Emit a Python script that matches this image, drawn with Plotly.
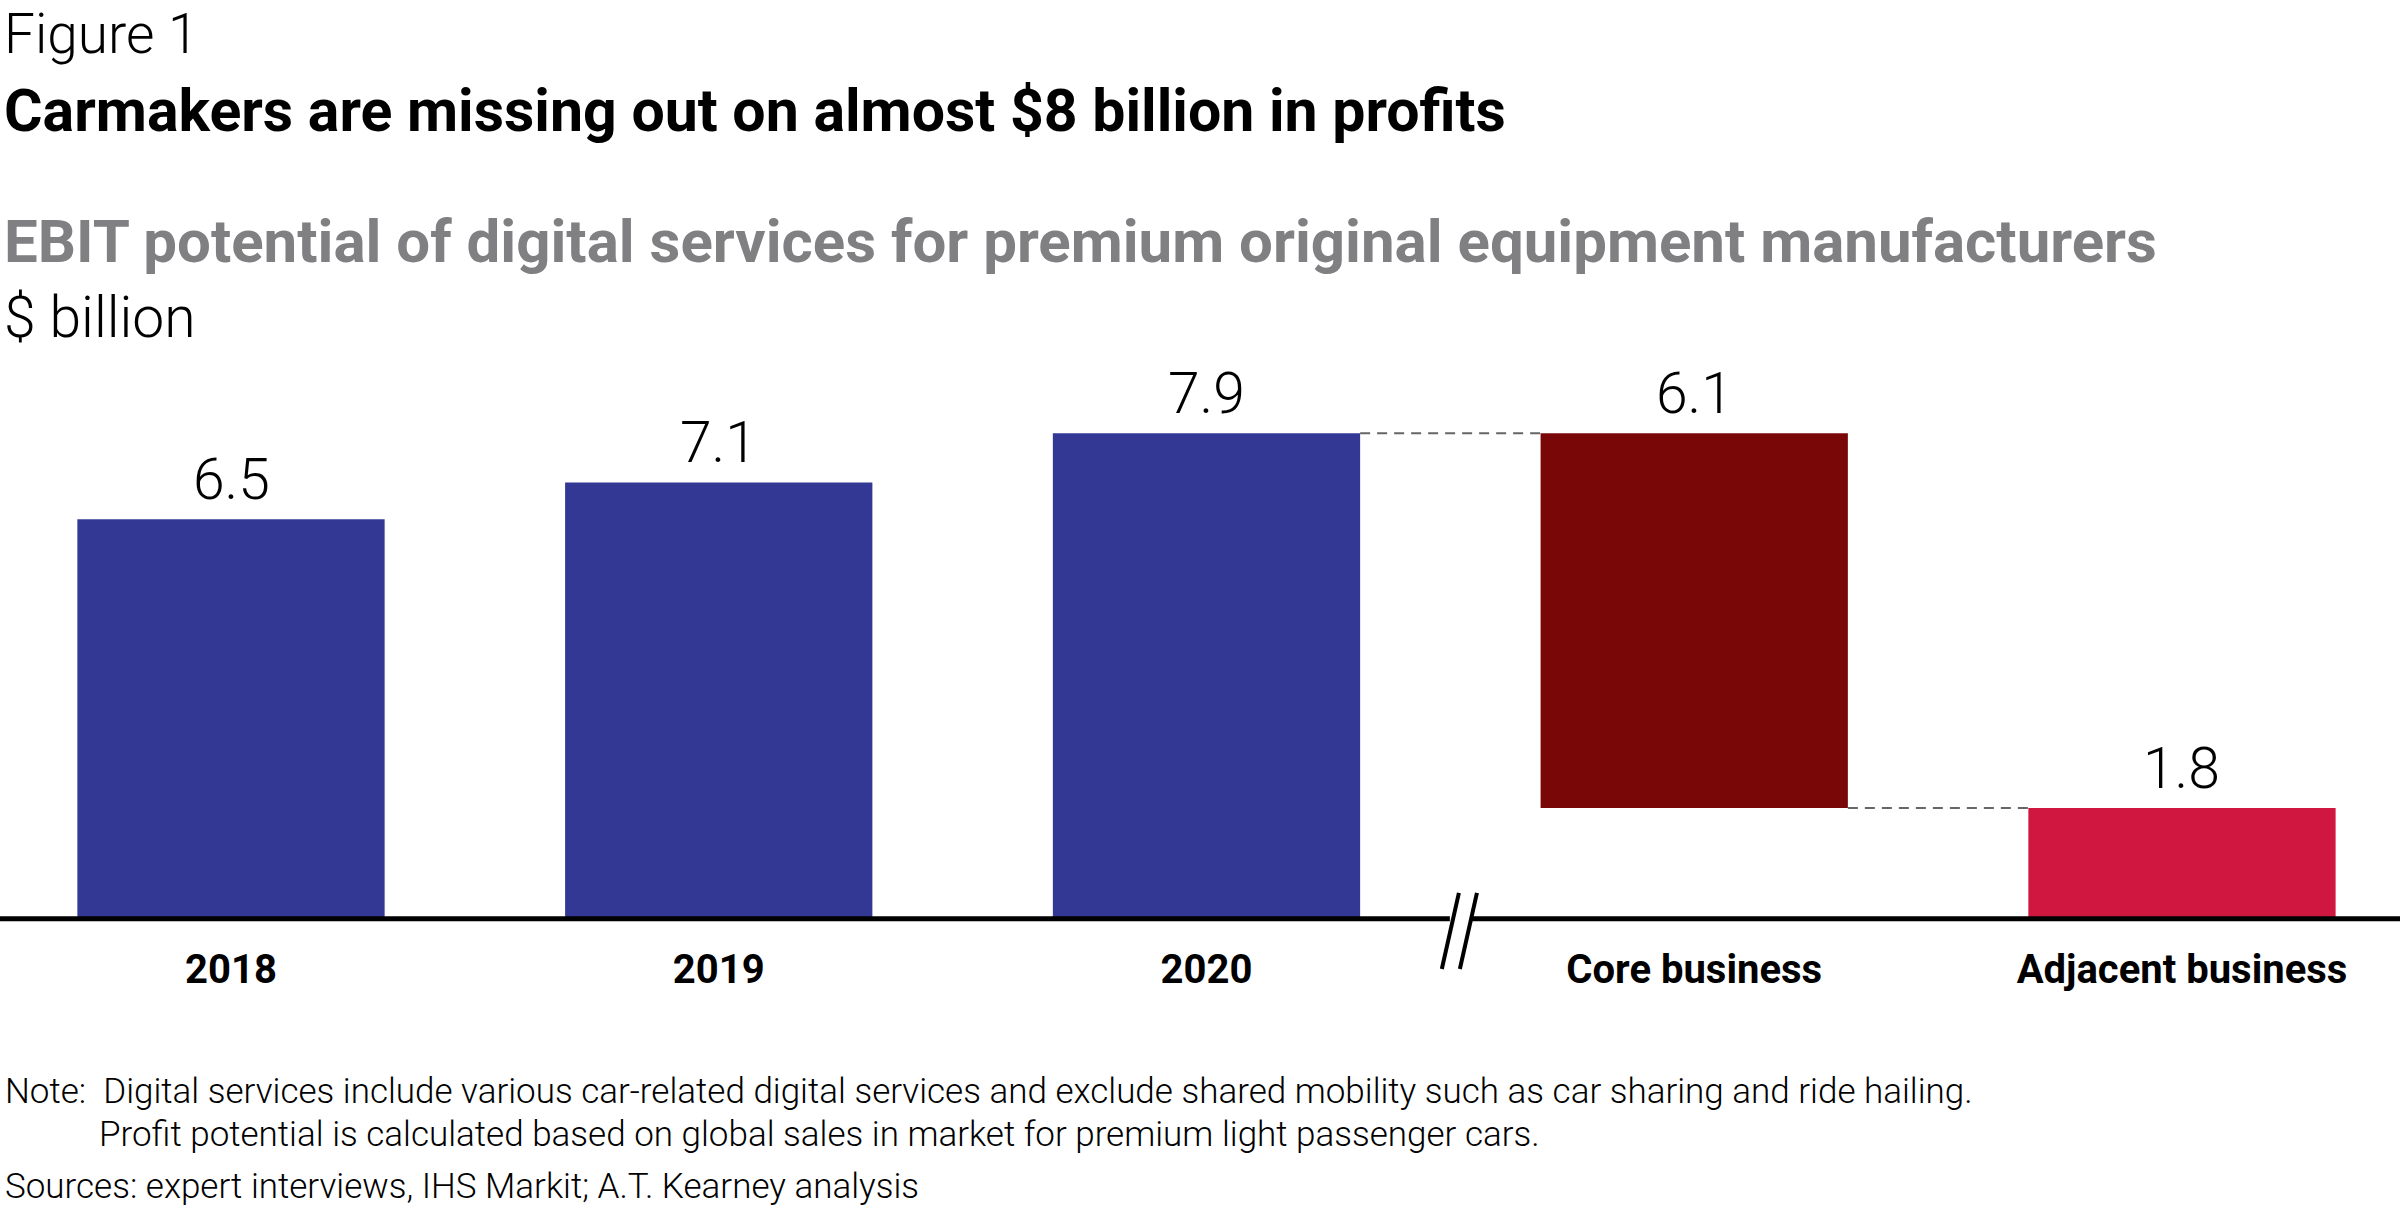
import plotly.graph_objects as go

# data
categories = ["2018", "2019", "2020", "Core business", "Adjacent business"]
values = [6.5, 7.1, 7.9, 6.1, 1.8]
value_labels = ["6.5", "7.1", "7.9", "6.1", "1.8"]
colors = ["#333894", "#333894", "#333894", "#7a0708", "#cf1740"]

# waterfall bases: core sits on top of adjacent, adjacent starts at zero
bases = [0, 0, 0, values[4], 0]
tops = [b + v for b, v in zip(bases, values)]

W, H = 2400, 1208
T, B = 378, 274
PH = H - T - B
YMIN, YMAX = -0.25, 8.8
XMIN, XMAX = -0.4736, 4.447
BW = 0.63
BREAK_X = 2.52
FONT = "Roboto"


def py(p):
    # pixel row -> paper y
    return (H - B - p) / PH


def dy(v):
    # data y -> paper y
    return (v - YMIN) / (YMAX - YMIN)


fig = go.Figure()
fig.add_trace(go.Bar(
    x=list(range(len(categories))),
    y=values,
    base=bases,
    width=BW,
    marker_color=colors,
    marker_line_width=0,
    hoverinfo="skip",
))

# value labels above bars
for i, (top, lab) in enumerate(zip(tops, value_labels)):
    fig.add_annotation(x=i, y=top, text=lab, showarrow=False, xanchor="center",
                       yanchor="bottom", yshift=4,
                       font=dict(family=FONT, size=57, color="#000000", weight=300))

shapes = []
# dashed connectors
shapes.append(dict(type="line", xref="x", yref="y", x0=2 + BW / 2, x1=3 - BW / 2,
                   y0=tops[2], y1=tops[2], line=dict(color="#666666", width=2, dash="10px,7px")))
shapes.append(dict(type="line", xref="x", yref="y", x0=3 + BW / 2, x1=4 - BW / 2,
                   y0=bases[3], y1=bases[3], line=dict(color="#666666", width=2, dash="10px,7px")))
# baseline
shapes.append(dict(type="line", xref="paper", yref="y", x0=0, x1=1, y0=0, y1=0,
                   line=dict(color="#000000", width=5)))
# gap in baseline + break marks
shapes.append(dict(type="rect", xref="x", yref="y", x0=BREAK_X - 0.021, x1=BREAK_X + 0.021,
                   y0=-0.1, y1=0.1, fillcolor="#ffffff", line_width=0))
for off in (-0.02, 0.017):
    shapes.append(dict(type="line", xref="x", yref="paper",
                       x0=BREAK_X + off + 0.0175, y0=dy(0.42),
                       x1=BREAK_X + off - 0.0175, y1=dy(-0.82),
                       line=dict(color="#000000", width=4)))

fig.update_layout(shapes=shapes)

# titles
fig.add_annotation(xref="paper", yref="paper", x=0, y=py(34), text="Figure 1", showarrow=False,
                   xanchor="left", yanchor="middle", xshift=2,
                   font=dict(family=FONT, size=55, color="#000000", weight=300))
fig.add_annotation(xref="paper", yref="paper", x=0, y=py(110),
                   text="<b>Carmakers are missing out on almost $8 billion in profits</b>",
                   showarrow=False, xanchor="left", yanchor="middle", xshift=2,
                   font=dict(family=FONT, size=59, color="#000000"))
fig.add_annotation(xref="paper", yref="paper", x=0, y=py(242),
                   text="<b>EBIT potential of digital services for premium original equipment manufacturers</b>",
                   showarrow=False, xanchor="left", yanchor="middle", xshift=2,
                   font=dict(family=FONT, size=60, color="#808083"))
fig.add_annotation(xref="paper", yref="paper", x=0, y=py(317), text="$ billion", showarrow=False,
                   xanchor="left", yanchor="middle", xshift=2,
                   font=dict(family=FONT, size=57, color="#000000", weight=300))

# notes
note_font = dict(family=FONT, size=35, color="#000000", weight=300)
fig.add_annotation(xref="paper", yref="paper", x=0, y=py(1091),
                   text="Note:  Digital services include various car-related digital services and exclude shared mobility such as car sharing and ride hailing.",
                   showarrow=False, xanchor="left", yanchor="middle", xshift=3, font=note_font)
fig.add_annotation(xref="paper", yref="paper", x=97 / W, y=py(1134),
                   text="Profit potential is calculated based on global sales in market for premium light passenger cars.",
                   showarrow=False, xanchor="left", yanchor="middle", font=note_font)
fig.add_annotation(xref="paper", yref="paper", x=0, y=py(1186),
                   text="Sources: expert interviews, IHS Markit; A.T. Kearney analysis",
                   showarrow=False, xanchor="left", yanchor="middle", xshift=3, font=note_font)

fig.update_layout(
    width=W, height=H,
    margin=dict(l=0, r=0, t=T, b=B),
    paper_bgcolor="#ffffff", plot_bgcolor="#ffffff",
    showlegend=False,
    font=dict(family=FONT),
    xaxis=dict(range=[XMIN, XMAX], tickvals=list(range(len(categories))),
               ticktext=["<b>%s</b>" % c for c in categories],
               tickfont=dict(family=FONT, size=40, color="#000000"),
               showgrid=False, zeroline=False, showline=False, ticks="",
               ticklabelstandoff=8, fixedrange=True),
    yaxis=dict(range=[YMIN, YMAX], visible=False, fixedrange=True),
)

fig.write_html("out.html", config={"displayModeBar": False},
               post_script="document.body.style.margin='0';")
